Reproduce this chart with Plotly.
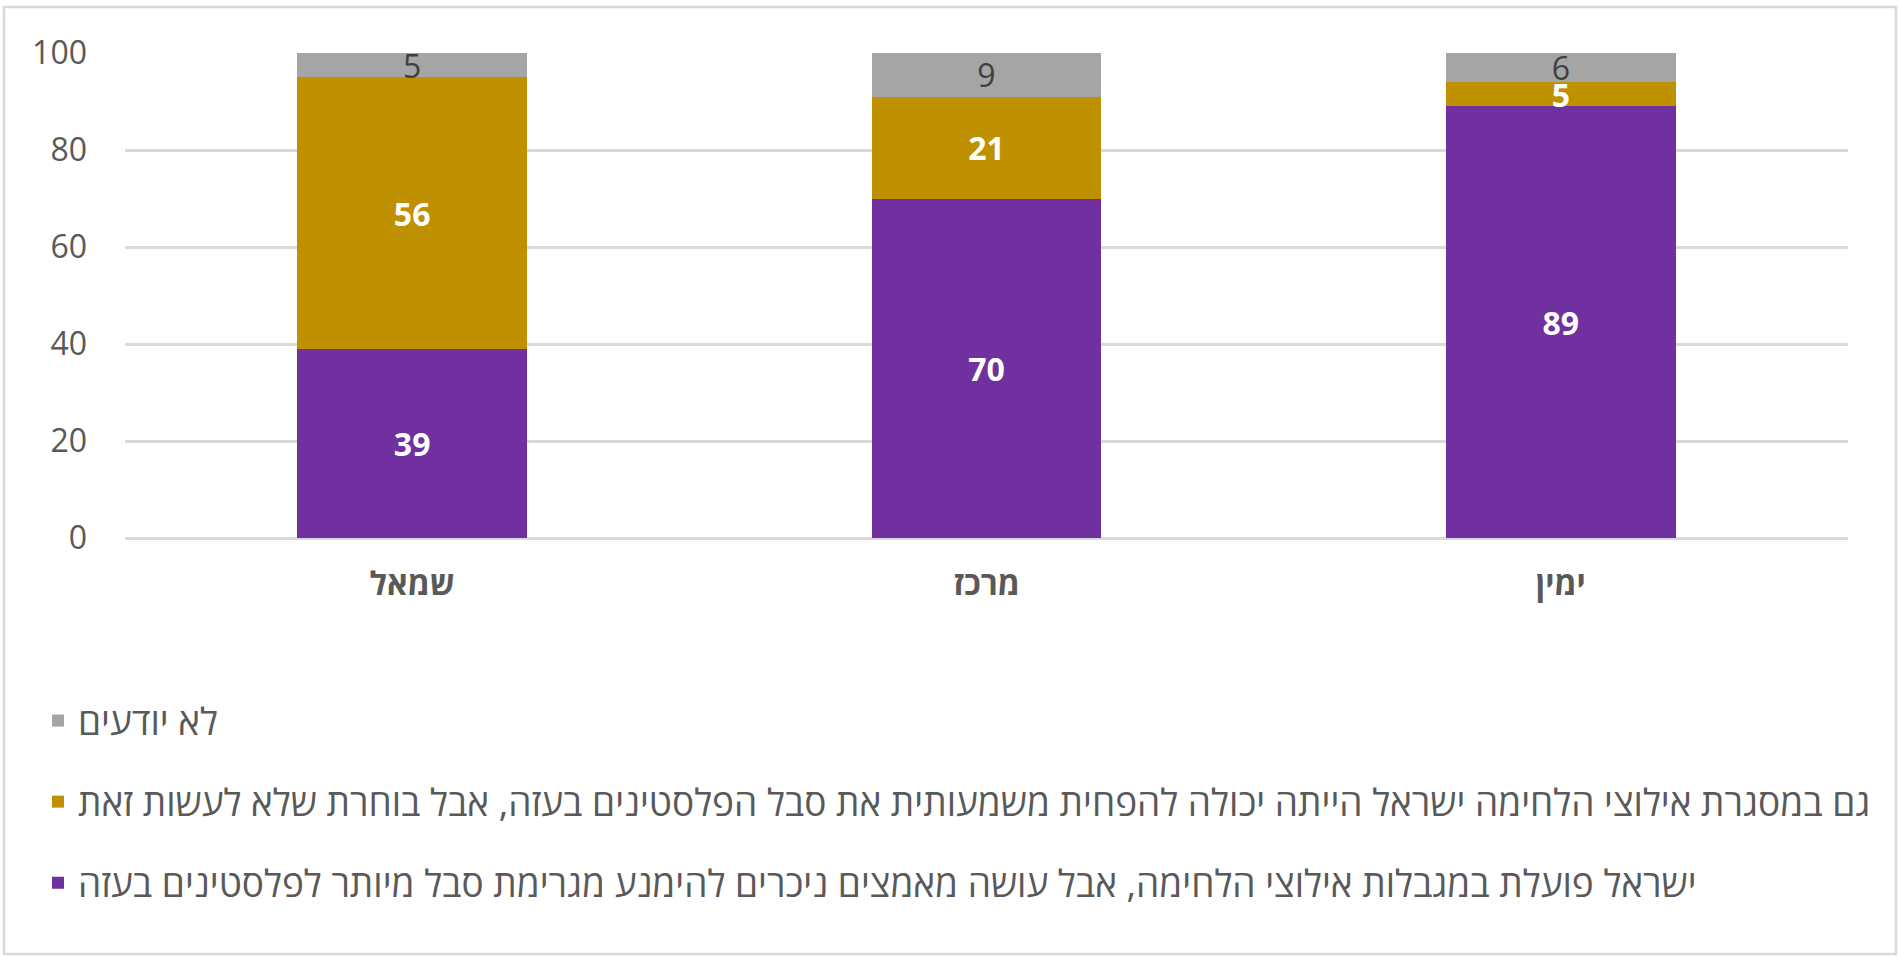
import plotly.graph_objects as go

categories = ["שמאל", "מרכז", "ימין"]
series_names = [
    "ישראל פועלת במגבלות אילוצי הלחימה, אבל עושה מאמצים ניכרים להימנע מגרימת סבל מיותר לפלסטינים בעזה",
    "גם במסגרת אילוצי הלחימה ישראל הייתה יכולה להפחית משמעותית את סבל הפלסטינים בעזה, אבל בוחרת שלא לעשות זאת",
    "לא יודעים",
]
purple_vals = [39, 70, 89]
gold_vals = [56, 21, 5]
gray_vals = [5, 9, 6]
y_ticks = [0, 20, 40, 60, 80, 100]

colors = ["#7030A0", "#BF9000", "#A5A5A5"]
text_colors = ["#FFFFFF", "#FFFFFF", "#404040"]
text_weights = ["bold", "bold", "normal"]
legend_ranks = [3, 2, 1]
FONT = "Open Sans, Liberation Sans, DejaVu Sans, sans-serif"

fig = go.Figure()
for i, (name, vals) in enumerate(zip(series_names, [purple_vals, gold_vals, gray_vals])):
    fig.add_trace(go.Bar(
        x=categories, y=vals, name=name,
        marker=dict(color=colors[i], line=dict(width=0)),
        text=[str(v) for v in vals],
        textposition="inside", insidetextanchor="middle",
        constraintext="none", textangle=0,
        textfont=dict(family=FONT, size=32, color=text_colors[i], weight=text_weights[i]),
        legendgroup=f"g{i}", legendrank=legend_ranks[i],
        width=0.4,
    ))

W, H = 1900, 957
L, R, T, B = 125, 52, 53, 419
pw, ph = W - L - R, H - T - B

def px_x(p):
    return (p - L) / pw

def px_y(p):
    return (H - B - p) / ph

fig.update_layout(
    width=W, height=H,
    barmode="stack",
    paper_bgcolor="white", plot_bgcolor="white",
    margin=dict(l=L, r=R, t=T, b=B, autoexpand=False),
    font=dict(family=FONT, color="#595959"),
    xaxis=dict(
        tickfont=dict(size=32, color="#595959", weight="bold"),
        showgrid=False, showline=False, ticks="",
        ticklabelstandoff=24,
    ),
    yaxis=dict(
        range=[0, 100], tickvals=y_ticks,
        tickfont=dict(size=32, color="#595959"),
        showgrid=True, gridcolor="#D9D9D9", gridwidth=2.5,
        zeroline=True, zerolinecolor="#D9D9D9", zerolinewidth=2.5,
        showline=False, ticks="", ticklabelstandoff=37,
    ),
    legend=dict(
        x=px_x(38), y=px_y(690), xanchor="left", yanchor="top",
        traceorder="grouped", tracegroupgap=30,
        font=dict(size=37, color="#595959"),
        bgcolor="rgba(0,0,0,0)", itemwidth=30,
    ),
    shapes=[dict(
        type="rect", xref="paper", yref="paper",
        x0=px_x(4), x1=px_x(1896), y0=px_y(954), y1=px_y(7),
        line=dict(color="#D9D9D9", width=2.5), fillcolor="rgba(0,0,0,0)",
        layer="below",
    )],
)

fig.write_html("out.html", config={"displayModeBar": False},
               post_script="document.body.style.margin='0px';")
